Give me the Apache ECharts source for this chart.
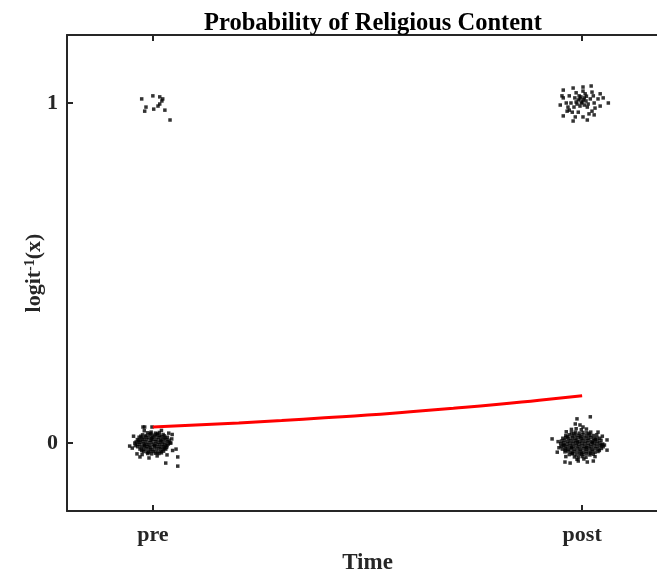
<!DOCTYPE html>
<html>
<head>
<meta charset="utf-8">
<script src="https://cdn.jsdelivr.net/npm/echarts@6/dist/echarts.min.js"></script>
<style>html,body{margin:0;padding:0;background:#fff}#c{width:657px;height:572px}</style>
</head>
<body>
<div id="c"></div>
<script>
const categories = ['pre', 'post'];
const xTickValues = [0, 1];
const yTickValues = [0, 1];
const yTickLabels = ['0', '1'];

const preZero = [
[-0.012,0.030],[-0.004,0.032],[0.006,0.029],[0.015,0.031],
[-0.024,0.024],[-0.016,0.022],[-0.008,0.025],[0.000,0.023],[0.008,0.024],[0.016,0.022],[0.024,0.025],
[-0.032,0.017],[-0.025,0.015],[-0.017,0.018],[-0.010,0.016],[-0.002,0.017],[0.005,0.019],[0.013,0.016],[0.020,0.018],[0.028,0.015],[0.034,0.017],
[-0.036,0.010],[-0.029,0.009],[-0.021,0.011],[-0.014,0.010],[-0.006,0.008],[0.001,0.011],[0.009,0.010],[0.017,0.009],[0.024,0.011],[0.031,0.010],[0.038,0.008],
[-0.039,0.003],[-0.031,0.002],[-0.024,0.004],[-0.017,0.003],[-0.009,0.001],[-0.002,0.003],[0.006,0.004],[0.013,0.002],[0.021,0.003],[0.028,0.001],[0.035,0.004],
[-0.037,-0.004],[-0.030,-0.005],[-0.022,-0.003],[-0.015,-0.004],[-0.008,-0.006],[0.000,-0.004],[0.007,-0.003],[0.015,-0.005],[0.022,-0.004],[0.029,-0.006],[0.036,-0.003],
[-0.035,-0.011],[-0.027,-0.012],[-0.020,-0.010],[-0.012,-0.011],[-0.005,-0.013],[0.003,-0.011],[0.010,-0.010],[0.018,-0.012],[0.025,-0.011],[0.032,-0.013],
[-0.030,-0.018],[-0.022,-0.019],[-0.015,-0.017],[-0.007,-0.018],[0.000,-0.020],[0.008,-0.018],[0.015,-0.017],[0.023,-0.019],[0.030,-0.018],
[-0.022,-0.025],[-0.014,-0.026],[-0.006,-0.024],[0.002,-0.025],[0.010,-0.027],[0.018,-0.025],[0.025,-0.024],
[-0.012,-0.031],[-0.003,-0.032],[0.006,-0.030],[0.014,-0.031],
[-0.028,0.020],[-0.005,0.028],[0.011,0.027],[0.027,0.021],[-0.033,0.006],[0.040,0.000],[-0.041,-0.008],[0.033,-0.008],
[-0.026,-0.022],[0.027,-0.015],[-0.010,-0.028],[0.020,-0.029],[-0.003,0.013],[0.004,-0.008],[-0.019,-0.007],[0.019,0.006],
[-0.045,0.020],[0.045,0.025],[-0.048,-0.015],[0.046,-0.022],[0.020,0.037],[-0.020,0.036],[0.010,-0.038],[-0.025,-0.034],
[-0.023,0.047],[-0.019,0.047],[-0.002,0.047],[-0.054,-0.009],[-0.042,0.000],[0.037,0.029],[0.044,0.012],[0.042,0.000],
[0.054,-0.018],[0.058,-0.041],[0.058,-0.068],[0.030,-0.059],[-0.037,-0.032],[-0.030,-0.041],[-0.009,-0.044],[0.033,-0.035]
];

const preOne = [
[-0.026,1.012],[0.000,1.021],[0.016,1.018],[0.023,1.012],[0.021,1.006],[0.016,0.997],
[0.012,0.991],[-0.016,0.988],[-0.019,0.976],[0.002,0.982],[0.028,0.979],[0.040,0.950]
];

const postZero = [
[0.975,0.040],[0.986,0.042],[0.998,0.039],[1.010,0.041],
[0.975,0.030],[0.984,0.032],[0.993,0.029],[1.002,0.031],[1.011,0.030],[1.020,0.032],
[0.962,0.022],[0.970,0.024],[0.978,0.021],[0.986,0.023],[0.994,0.022],[1.002,0.024],[1.010,0.021],[1.018,0.023],[1.026,0.022],[1.034,0.024],
[0.955,0.014],[0.962,0.016],[0.969,0.013],[0.977,0.015],[0.984,0.014],[0.991,0.016],[0.998,0.013],[1.005,0.015],[1.013,0.014],[1.020,0.016],[1.027,0.013],[1.034,0.015],[1.041,0.014],
[0.952,0.006],[0.959,0.008],[0.966,0.005],[0.973,0.007],[0.980,0.006],[0.987,0.008],[0.994,0.005],[1.001,0.007],[1.008,0.006],[1.015,0.008],[1.022,0.005],[1.029,0.007],[1.036,0.006],[1.044,0.008],
[0.950,-0.002],[0.957,0.000],[0.964,-0.003],[0.971,-0.001],[0.978,-0.002],[0.985,0.000],[0.992,-0.003],[0.999,-0.001],[1.006,-0.002],[1.013,0.000],[1.020,-0.003],[1.027,-0.001],[1.034,-0.002],[1.041,0.000],[1.048,-0.003],
[0.951,-0.010],[0.958,-0.008],[0.965,-0.011],[0.972,-0.009],[0.979,-0.010],[0.986,-0.008],[0.993,-0.011],[1.000,-0.009],[1.007,-0.010],[1.014,-0.008],[1.021,-0.011],[1.028,-0.009],[1.035,-0.010],[1.042,-0.008],[1.049,-0.011],
[0.954,-0.018],[0.961,-0.016],[0.968,-0.019],[0.975,-0.017],[0.982,-0.018],[0.989,-0.016],[0.996,-0.019],[1.003,-0.017],[1.010,-0.018],[1.017,-0.016],[1.024,-0.019],[1.031,-0.017],[1.038,-0.018],[1.045,-0.016],
[0.960,-0.026],[0.967,-0.024],[0.974,-0.027],[0.981,-0.025],[0.988,-0.026],[0.995,-0.024],[1.002,-0.027],[1.009,-0.025],[1.016,-0.026],[1.023,-0.024],[1.030,-0.027],[1.037,-0.025],
[0.970,-0.034],[0.978,-0.032],[0.986,-0.035],[0.994,-0.033],[1.002,-0.034],[1.010,-0.032],[1.018,-0.035],[1.026,-0.033],
[0.982,-0.041],[0.991,-0.043],[1.000,-0.040],[1.009,-0.042],
[0.988,-0.048],[1.004,-0.047],
[0.966,0.018],[0.981,0.027],[0.997,0.018],[1.016,0.027],[1.031,0.010],[0.956,-0.006],[1.045,-0.006],[0.961,-0.021],
[1.040,-0.022],[0.977,-0.030],[0.998,-0.030],[1.020,-0.030],[0.989,0.003],[1.010,-0.014],[0.975,-0.013],[1.024,0.002],
[1.019,0.077],[0.988,0.071],[0.984,0.056],[0.995,0.053],[1.002,0.047],[0.930,0.012],[0.942,-0.027],[1.058,0.009],
[1.058,-0.021],[0.960,-0.056],[0.972,-0.059],[0.991,-0.053],[1.012,-0.056],[1.026,-0.053],[1.037,0.032],
[0.944,0.004],[0.946,-0.014],[1.052,-0.006],[1.047,0.020],[0.963,0.033],[1.030,-0.040],[0.962,-0.040]
];

const postOne = [
[0.956,1.038],[0.979,1.044],[1.002,1.047],[1.021,1.050],[0.953,1.021],[0.956,1.015],[0.970,1.021],
[1.002,1.035],[1.007,1.027],[1.023,1.032],[1.026,1.021],[1.037,1.012],[1.049,1.015],[1.061,1.000],
[1.042,0.991],[0.956,0.962],[0.977,0.973],[0.984,0.959],[1.002,0.959],[0.979,0.947],[1.023,0.976],
[0.967,0.988],[0.965,0.976],[1.012,0.988],[0.995,0.991],[0.988,0.997],
[0.995,1.012],[1.005,1.015],[1.009,1.006],[1.000,1.003],[0.991,1.009],[1.014,0.997],[1.005,0.994],
[0.986,1.003],[1.019,1.012],[0.993,1.021],[0.981,0.988],[0.974,1.000],[1.028,1.000],[1.030,0.985],
[1.016,0.968],[0.963,1.000],[0.970,0.979],[0.991,0.973],[1.028,0.965],[1.012,0.950],[0.949,0.994],
[0.986,1.030],[1.042,1.027],[0.998,1.000],[1.003,1.009],[0.997,1.018],[1.010,1.020],[0.983,1.015]
];

const fitX = [0, 0.1, 0.2, 0.3, 0.4, 0.5, 0.6, 0.7, 0.8, 0.9, 1.0];
const fitY = [0.047, 0.053, 0.059, 0.066, 0.074, 0.082, 0.092, 0.102, 0.113, 0.126, 0.139];

const axisColor = '#262626';
const fontFam = '"Liberation Serif", "Times New Roman", serif';

const chart = echarts.init(document.getElementById('c'), null, {renderer: 'canvas'});
const dot = {type: 'scatter', symbol: 'rect', symbolSize: 3.5, itemStyle: {color: '#000'}, silent: true, animation: false};

chart.setOption({
  animation: false,
  title: {
    text: 'Probability of Religious Content',
    left: 368, top: 6, textAlign: 'center',
    textStyle: {fontFamily: fontFam, fontWeight: 'bold', fontSize: 24.5, color: '#000'}
  },
  grid: {left: 67, right: -11, top: 35, bottom: 61, containLabel: false, outerBoundsMode: 'none'},
  xAxis: [{
    type: 'value', min: -0.2, max: 1.2, position: 'bottom',
    name: 'Time', nameLocation: 'middle', nameGap: 41, nameMoveOverlap: false,
    nameTextStyle: {fontFamily: fontFam, fontWeight: 'bold', fontSize: 23, color: axisColor},
    axisLine: {show: true, onZero: false, lineStyle: {color: axisColor, width: 2}},
    axisTick: {show: true, inside: true, length: 6, customValues: xTickValues, lineStyle: {color: axisColor, width: 2}},
    axisLabel: {show: true, margin: 13, customValues: xTickValues,
      formatter: v => categories[xTickValues.indexOf(Math.round(v))] || '',
      fontFamily: fontFam, fontWeight: 'bold', fontSize: 22, color: axisColor},
    splitLine: {show: false}
  }, {
    type: 'value', min: -0.2, max: 1.2, position: 'top',
    axisLine: {show: true, onZero: false, lineStyle: {color: axisColor, width: 2}},
    axisTick: {show: true, inside: true, length: 6, customValues: xTickValues, lineStyle: {color: axisColor, width: 2}},
    axisLabel: {show: false},
    splitLine: {show: false}
  }],
  yAxis: {
    type: 'value', min: -0.2, max: 1.2,
    name: '{a|logit}{b|-1}{a|(x)}', nameLocation: 'middle', nameGap: 22, nameMoveOverlap: false,
    nameTextStyle: {
      fontFamily: fontFam, fontWeight: 'bold', fontSize: 22, color: axisColor,
      rich: {
        a: {fontFamily: fontFam, fontWeight: 'bold', fontSize: 22, color: axisColor},
        b: {fontFamily: fontFam, fontWeight: 'bold', fontSize: 14, color: axisColor, verticalAlign: 'top'}
      }
    },
    axisLine: {show: true, onZero: false, lineStyle: {color: axisColor, width: 2}},
    axisTick: {show: true, inside: true, length: 6, customValues: yTickValues, lineStyle: {color: axisColor, width: 2}},
    axisLabel: {show: true, margin: 9, customValues: yTickValues,
      formatter: v => yTickLabels[yTickValues.indexOf(Math.round(v))] || '',
      fontFamily: fontFam, fontWeight: 'bold', fontSize: 22, color: axisColor},
    splitLine: {show: false}
  },
  series: [
    Object.assign({}, dot, {data: preZero}),
    Object.assign({}, dot, {data: preOne}),
    Object.assign({}, dot, {data: postZero}),
    Object.assign({}, dot, {data: postOne}),
    {type: 'line', data: fitX.map((x, i) => [x, fitY[i]]), showSymbol: false, symbol: 'none',
     smooth: true, lineStyle: {color: '#ff0000', width: 3}, silent: true, z: 3}
  ]
});
</script>
</body>
</html>
